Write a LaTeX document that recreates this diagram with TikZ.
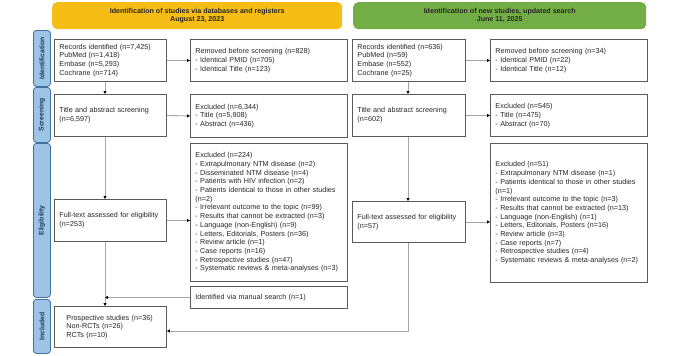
\documentclass[tikz,border=0pt]{standalone}
\usepackage{fontspec}
\setmainfont{Liberation Sans}
\usetikzlibrary{arrows.meta}
\definecolor{banY}{HTML}{F6BD16}
\definecolor{banG}{HTML}{72AE45}
\definecolor{sideF}{HTML}{9DC3E6}
\definecolor{sideD}{HTML}{41719C}
\definecolor{sideT}{HTML}{1F3864}
\definecolor{boxD}{HTML}{5A5A5A}
\definecolor{lineG}{HTML}{A6A6A6}
\begin{document}
\begin{tikzpicture}[x=1pt,y=-1pt,
  box/.style={draw=boxD, line width=0.9pt, align=left, inner xsep=5pt, inner ysep=0pt,
    anchor=north west, font=\fontsize{7.2}{8.7}\selectfont, text=black!85},
  banner/.style={rounded corners=5pt, draw=none, align=center, inner sep=0pt,
    font=\bfseries\fontsize{7.1}{8.5}\selectfont, text=black!85},
  side/.style={rounded corners=3pt, fill=sideF, draw=sideD, line width=0.8pt, inner sep=0pt},
  sidetext/.style={rotate=90, inner sep=0pt, font=\bfseries\fontsize{6.8}{8}\selectfont, text=sideT},
  conn/.style={draw=lineG, line width=0.9pt, -{Triangle[length=3pt,width=3pt,color=black]}}
]
\useasboundingbox (0,0) rectangle (680,356);
\fill[white] (0,0) rectangle (680,356);

% banners
\node[banner, fill=banY, minimum width=290, minimum height=27, anchor=north west] (banY) at (52,2)
  {Identification of studies via databases and registers\\August 23, 2023};
\node[banner, fill=banG, minimum width=293, minimum height=27, anchor=north west] (banG) at (353,2)
  {Identification of new studies, updated search\\June 11, 2025};

% side labels
\node[side, minimum width=17, minimum height=56, anchor=north west] (sI) at (33,30) {};
\node[sidetext] (sIt) at (sI.center) {Identification};
\node[side, minimum width=17, minimum height=55, anchor=north west] (sS) at (33,87) {};
\node[sidetext] (sSt) at (sS.center) {Screening};
\node[side, minimum width=17, minimum height=154, anchor=north west] (sE) at (33,143) {};
\node[sidetext] (sEt) at (sE.center) {Eligibility};
\node[side, minimum width=17, minimum height=54, anchor=north west] (sN) at (33,299) {};
\node[sidetext] (sNt) at (sN.center) {Included};

% left column
\node[box, text width=102, minimum height=42] (recL) at (54,39)
  {Records identified (n=7,425)\\PubMed (n=1,418)\\Embase (n=5,293)\\Cochrane (n=714)};
\node[box, text width=147, minimum height=42] (remL) at (190,39)
  {Removed before screening (n=828)\\- Identical PMID (n=705)\\- Identical Title (n=123)};
\node[box, text width=102, minimum height=42] (titL) at (54,94)
  {Title and abstract screening\\(n=6,597)};
\node[box, text width=147, minimum height=43] (exL1) at (190,94)
  {Excluded (n=6,344)\\- Title (n=5,908)\\- Abstract (n=436)};
\node[box, text width=102, minimum height=42] (fulL) at (54,199)
  {Full-text assessed for eligibility\\(n=253)};
\node[box, text width=147, minimum height=138] (exL2) at (190,143)
  {Excluded (n=224)\\
   - Extrapulmonary NTM disease (n=2)\\
   - Disseminated NTM disease (n=4)\\
   - Patients with HIV infection (n=2)\\
   - Patients identical to those in other studies\\
   (n=2)\\
   - Irrelevant outcome to the topic (n=99)\\
   - Results that cannot be extracted (n=3)\\
   - Language (non-English) (n=9)\\
   - Letters, Editorials, Posters (n=36)\\
   - Review article (n=1)\\
   - Case reports (n=16)\\
   - Retrospective studies (n=47)\\
   - Systematic reviews \& meta-analyses (n=3)};
\node[box, text width=147, minimum height=22] (manu) at (190,286)
  {Identified via manual search (n=1)};
\node[box, inner xsep=12pt, text width=88, minimum height=41] (incl) at (54,306)
  {Prospective studies (n=36)\\Non-RCTs (n=26)\\RCTs (n=10)};

% right column
\node[box, text width=103, minimum height=42] (recR) at (352,39)
  {Records identified (n=636)\\PubMed (n=59)\\Embase (n=552)\\Cochrane (n=25)};
\node[box, text width=147, minimum height=42] (remR) at (490,39)
  {Removed before screening (n=34)\\- Identical PMID (n=22)\\- Identical Title (n=12)};
\node[box, text width=103, minimum height=42] (titR) at (352,94)
  {Title and abstract screening\\(n=602)};
\node[box, text width=147, minimum height=42] (exR1) at (490,94)
  {Excluded (n=545)\\- Title (n=475)\\- Abstract (n=70)};
\node[box, text width=103, minimum height=41] (fulR) at (352,201)
  {Full-text assessed for eligibility\\(n=57)};
\node[box, text width=147, minimum height=139] (exR2) at (490,143)
  {Excluded (n=51)\\
   - Extrapulmonary NTM disease (n=1)\\
   - Patients identical to those in other studies\\
   (n=1)\\
   - Irrelevant outcome to the topic (n=3)\\
   - Results that cannot be extracted (n=13)\\
   - Language (non-English) (n=1)\\
   - Letters, Editorials, Posters (n=16)\\
   - Review article (n=3)\\
   - Case reports (n=7)\\
   - Retrospective studies (n=4)\\
   - Systematic reviews \& meta-analyses (n=2)};

% connectors
\coordinate (cL) at (105,0);
\coordinate (cR) at (408,0);
\coordinate (turn) at (408,331);

\draw[conn] (recL.south -| cL) -- (titL.north -| cL);
\draw[conn] (titL.south -| cL) -- (fulL.north -| cL);
\draw[conn] (fulL.south -| cL) -- (incl.north -| cL);
\draw[conn] (manu.west) -- (manu.west -| cL);
\draw[conn] (recL.east) -- (remL.west);
\draw[conn] (titL.east) -- (exL1.west);
\draw[conn] (fulL.east) -- (fulL.east -| exL2.west);

\draw[conn] (recR.south -| cR) -- (titR.north -| cR);
\draw[conn] (titR.south -| cR) -- (fulR.north -| cR);
\draw[conn] (recR.east) -- (remR.west);
\draw[conn] (titR.east) -- (exR1.west);
\draw[conn] (fulR.east) -- (fulR.east -| exR2.west);
\draw[conn] (fulR.south -| cR) -- (turn) -- (turn -| incl.east);
\end{tikzpicture}
\end{document}
